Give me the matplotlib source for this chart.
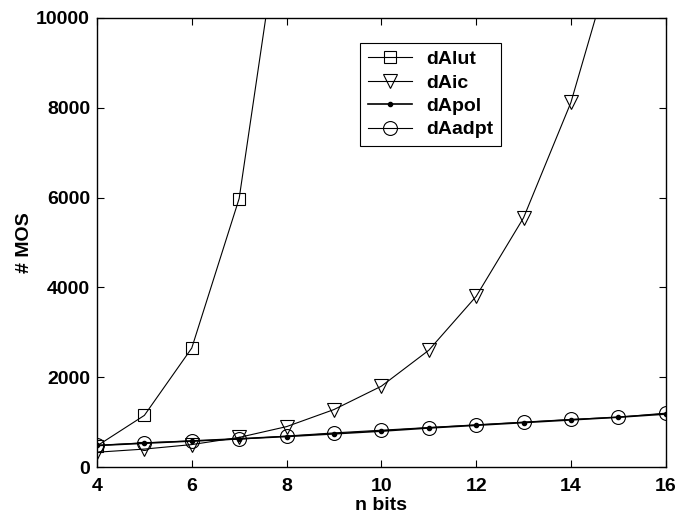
import matplotlib
matplotlib.use("Agg")
import matplotlib.pyplot as plt

plt.rcParams['font.family'] = ['Liberation Sans', 'DejaVu Sans']
plt.rcParams['font.weight'] = 'bold'

# data
bits_lut = [4, 5, 6, 7, 8]
dalut = [470, 1150, 2650, 5980, 13150]

bits = [4, 5, 6, 7, 8, 9, 10, 11, 12, 13, 14, 15, 16]
daic = [330, 400, 500, 660, 900, 1280, 1800, 2600, 3800, 5550, 8120, 11750, 17000]
dapol = [480, 530, 580, 630, 680, 740, 800, 870, 930, 990, 1050, 1110, 1180]
daadpt = [480, 540, 580, 620, 690, 760, 820, 880, 940, 1000, 1060, 1110, 1200]

fig = plt.figure(figsize=(6.8, 5.23), dpi=100)
ax = fig.add_axes([0.1426, 0.107, 0.8364, 0.8586])

ax.plot(bits_lut, dalut, color='black', lw=0.8, marker='s', ms=8,
        mfc='none', mec='black', mew=0.8, label='dAlut')
ax.plot(bits, daic, color='black', lw=0.8, marker='v', ms=10,
        mfc='none', mec='black', mew=0.8, label='dAic')
ax.plot(bits, dapol, color='black', lw=1.2, marker='o', ms=3,
        mfc='black', mec='black', label='dApol')
ax.plot(bits, daadpt, color='black', lw=0.8, marker='o', ms=10,
        mfc='none', mec='black', mew=0.8, label='dAadpt')

ax.set_xlim(4, 16)
ax.set_ylim(0, 10000)
ax.set_xticks([4, 6, 8, 10, 12, 14, 16])
ax.set_yticks([0, 2000, 4000, 6000, 8000, 10000])
ax.tick_params(direction='in', top=True, right=True, length=5, width=0.8,
               labelsize=14, pad=5)
ax.tick_params(axis='x', pad=8)
for lab in ax.get_xticklabels() + ax.get_yticklabels():
    lab.set_fontweight('bold')
for s in ax.spines.values():
    s.set_linewidth(1.0)

ax.set_xlabel('n bits', fontsize=14, fontweight='bold', labelpad=1)
ax.set_ylabel('# MOS', fontsize=14, fontweight='bold', labelpad=2)

leg = ax.legend(loc='upper left', bbox_to_anchor=(0.462, 0.945), fancybox=False,
                edgecolor='black', framealpha=1, borderpad=0.4, handlelength=2.3,
                labelspacing=0.3, borderaxespad=0, handletextpad=0.7,
                prop={'weight': 'bold', 'size': 14})
leg.get_frame().set_linewidth(0.8)

fig.savefig('out.png', dpi=100)
